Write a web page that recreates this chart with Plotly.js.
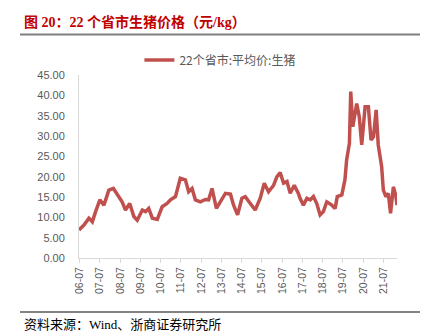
<!DOCTYPE html>
<html>
<head>
<meta charset="utf-8">
<script src="https://cdn.plot.ly/plotly-3.0.1.min.js"></script>
<style>
  html, body { margin: 0; padding: 0; background: #ffffff; }
  #chart { width: 428px; height: 332px; }
</style>
</head>
<body>
<div id="chart"></div>
<script>
// ---- Data ----
const seriesName = '22个省市:平均价:生猪';
const dates = [
  '2006-06-20','2006-09-17','2006-12-15','2007-02-15','2007-04-15','2007-07-01','2007-09-12','2007-12-10',
  '2008-03-01','2008-05-10','2008-08-05','2008-10-05','2008-12-20','2009-03-05','2009-05-05','2009-08-05',
  '2009-10-01','2009-11-28','2010-02-01','2010-05-01','2010-07-28','2010-10-25','2010-12-25','2011-03-25',
  '2011-06-20','2011-09-20','2011-11-18','2012-01-18','2012-03-18','2012-06-15','2012-09-15','2012-11-12',
  '2013-01-12','2013-04-01','2013-06-12','2013-09-10','2013-12-10','2014-02-05','2014-04-18','2014-07-05',
  '2014-09-03','2014-12-03','2015-03-01','2015-06-01','2015-08-12','2015-10-28','2016-01-28','2016-03-28',
  '2016-05-25','2016-07-25','2016-09-25','2016-11-22','2017-02-03','2017-04-18','2017-05-18','2017-07-18',
  '2017-09-18','2017-11-18','2018-01-15','2018-03-15','2018-05-15','2018-07-12','2018-09-12','2018-12-12',
  '2019-02-10','2019-03-20','2019-06-10','2019-08-05','2019-09-05','2019-10-25','2019-11-18','2019-12-25',
  '2020-02-05','2020-03-05','2020-04-20','2020-06-03','2020-08-03','2020-10-01','2020-11-18','2021-01-01',
  '2021-02-18','2021-03-28','2021-05-28','2021-06-28','2021-08-12','2021-09-25','2021-11-05','2021-12-25',
  '2022-02-05','2022-03-01'
];
const prices = [
  6.9, 8.1, 9.8, 8.9, 11.4, 14.3, 13.0, 16.7,
  17.1, 15.5, 13.8, 11.8, 13.4, 10.2, 9.3, 11.8,
  11.4, 12.2, 9.8, 9.5, 12.6, 13.4, 14.3, 15.1,
  19.6, 19.2, 16.3, 17.1, 14.3, 13.8, 14.4, 14.3,
  17.1, 12.2, 13.8, 15.9, 15.7, 13.0, 10.6, 14.7,
  15.1, 13.4, 11.8, 14.7, 18.4, 16.3, 17.9, 20.0,
  21.0, 18.4, 18.8, 15.9, 17.9, 15.9, 14.7, 13.0,
  14.7, 14.3, 15.1, 13.4, 10.6, 11.4, 13.8, 13.0,
  12.2, 15.1, 15.5, 19.2, 24.1, 28.2, 40.9, 32.3,
  35.6, 38.0, 34.7, 27.8, 37.2, 37.2, 29.0, 29.8,
  36.4, 27.8, 22.5, 16.7, 15.1, 15.9, 11.0, 17.5,
  15.5, 13.0
];
const tickYears = [2006,2007,2008,2009,2010,2011,2012,2013,2014,2015,2016,2017,2018,2019,2020,2021];
const tickDates = tickYears.map(y => y + '-07-01');
const tickLabels = tickYears.map(y => String(y).slice(2) + '-07');
const yTicks = [0,5,10,15,20,25,30,35,40,45];

const titleText = '图 20：22 个省市生猪价格（元/kg）';
const sourceText = '资料来源：Wind、浙商证券研究所';

const trace = {
  type: 'scatter',
  mode: 'lines',
  x: dates,
  y: prices,
  name: seriesName,
  line: { color: '#C0504D', width: 3.5 },
  showlegend: true
};

const layout = {
  width: 428,
  height: 332,
  margin: { l: 79, r: 31, t: 75, b: 74, pad: 0 },
  paper_bgcolor: '#ffffff',
  plot_bgcolor: '#ffffff',
  font: { family: 'Liberation Sans, Noto Sans CJK SC, sans-serif', color: '#595959' },
  xaxis: {
    type: 'date',
    range: ['2006-06-20', '2022-03-01'],
    tickmode: 'array',
    tickvals: tickDates,
    ticktext: tickLabels,
    tickangle: -90,
    ticks: 'outside',
    ticklen: 4,
    tickcolor: '#D9D9D9',
    showgrid: false,
    zeroline: false,
    showline: true,
    linecolor: '#D9D9D9',
    linewidth: 1,
    tickfont: { size: 10.5, color: '#595959' },
    fixedrange: true
  },
  yaxis: {
    range: [0, 45],
    tickmode: 'array',
    tickvals: yTicks,
    tickformat: '.2f',
    ticks: '',
    ticklabelstandoff: 11,
    showgrid: false,
    zeroline: false,
    showline: true,
    linecolor: '#D9D9D9',
    linewidth: 1,
    tickfont: { size: 11, color: '#595959' },
    fixedrange: true
  },
  legend: {
    orientation: 'h',
    x: 0.19,
    xanchor: 'left',
    y: 1.082,
    yanchor: 'middle',
    font: { size: 12, color: '#595959', family: 'Noto Sans CJK SC, sans-serif' },
    bgcolor: 'rgba(0,0,0,0)'
  },
  annotations: [
    {
      text: '<b>' + titleText + '</b>',
      xref: 'paper', yref: 'paper',
      x: -0.179, y: 1.292,
      xanchor: 'left', yanchor: 'middle',
      showarrow: false,
      font: { family: 'Liberation Serif, Noto Sans CJK SC, serif', size: 14, color: '#C00000' }
    },
    {
      text: sourceText,
      xref: 'paper', yref: 'paper',
      x: -0.179, y: -0.361,
      xanchor: 'left', yanchor: 'middle',
      showarrow: false,
      font: { family: 'Liberation Serif, Noto Sans CJK SC, serif', size: 13, color: '#000000' }
    }
  ],
  shapes: [
    {
      type: 'line', xref: 'paper', yref: 'paper',
      x0: -0.1855, x1: 1.0723, y0: 1.2213, y1: 1.2213,
      line: { color: '#7F7F7F', width: 2 }
    },
    {
      type: 'line', xref: 'paper', yref: 'paper',
      x0: -0.1855, x1: 1.0723, y0: -0.295, y1: -0.295,
      line: { color: '#595959', width: 1.5 }
    }
  ]
};

Plotly.newPlot('chart', [trace], layout, { displayModeBar: false, staticPlot: true });
</script>
</body>
</html>
